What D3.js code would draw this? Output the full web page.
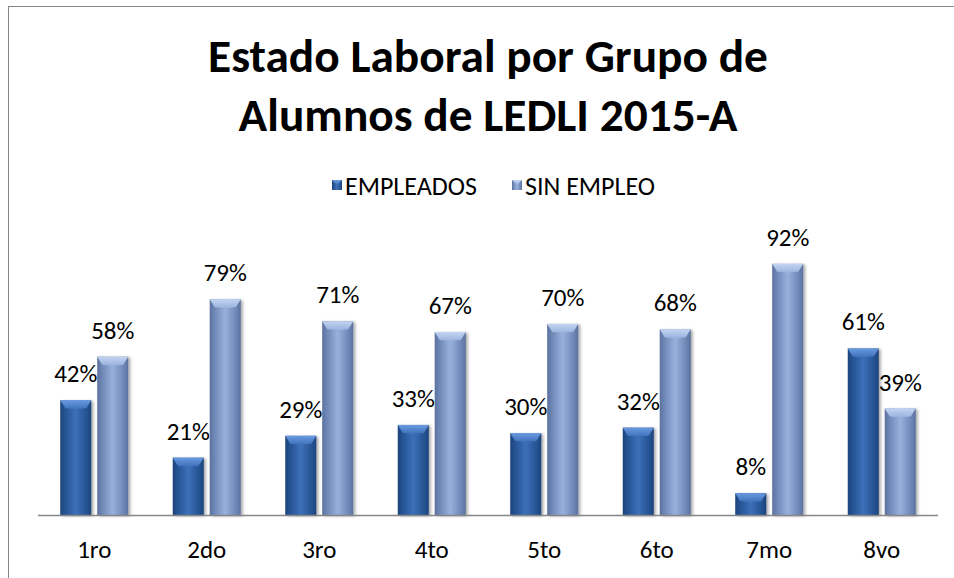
<!DOCTYPE html>
<html>
<head>
<meta charset="utf-8">
<script src="https://cdn.jsdelivr.net/npm/d3@7"></script>
<style>
  body { margin: 0; background: #fff; }
  svg text { font-family: Carlito, Calibri, Lato, sans-serif; fill: #000; }
</style>
</head>
<body>
<div id="chart"></div>
<script>
    "use strict";

    // Datos
    const grupos = ["1ro", "2do", "3ro", "4to", "5to", "6to", "7mo", "8vo"];
    const series = ["EMPLEADOS", "SIN EMPLEO"];
    const empleados = [42, 21, 29, 33, 30, 32, 8, 61];
    const sinEmpleo = [58, 79, 71, 67, 70, 68, 92, 39];
    const tituloLineas = ["Estado Laboral por Grupo de", "Alumnos de LEDLI 2015-A"];

    const width = 954, height = 578;
    const fuente = "Carlito, Calibri, Lato, sans-serif";
    const colores = {
        "EMPLEADOS": { edge: "#24508f", mid: "#3c70b8", top: "#6a9ae0", side: "#1d4479" },
        "SIN EMPLEO": { edge: "#6a83b2", mid: "#98b1dc", top: "#c3d4f1", side: "#5b719c" }
    };

    const svg = d3.select("#chart").append("svg")
        .attr("width", width)
        .attr("height", height);

    // Marco del área del gráfico
    svg.append("rect")
        .attr("x", 8.5).attr("y", 6.5)
        .attr("width", 1000).attr("height", 1000)
        .style("fill", "none")
        .style("stroke", "#868686")
        .style("stroke-width", 1);

    const defs = svg.append("defs");
    series.forEach((s, i) => {
        let c = colores[s];
        let g = defs.append("linearGradient")
            .attr("id", `grad_${i}`)
            .attr("x1", "0%").attr("x2", "100%").attr("y1", "0%").attr("y2", "0%");
        g.append("stop").attr("offset", "0%").attr("stop-color", c.side);
        g.append("stop").attr("offset", "12%").attr("stop-color", c.edge);
        g.append("stop").attr("offset", "50%").attr("stop-color", c.mid);
        g.append("stop").attr("offset", "88%").attr("stop-color", c.edge);
        g.append("stop").attr("offset", "100%").attr("stop-color", c.side);

        let t = defs.append("linearGradient")
            .attr("id", `top_${i}`)
            .attr("x1", "0%").attr("x2", "0%").attr("y1", "0%").attr("y2", "100%");
        t.append("stop").attr("offset", "0%").attr("stop-color", c.top);
        t.append("stop").attr("offset", "100%").attr("stop-color", c.mid);
    });

    let sombra = defs.append("filter").attr("id", "sombra")
        .attr("x", "-20%").attr("y", "-5%").attr("width", "150%").attr("height", "115%");
    sombra.append("feDropShadow")
        .attr("dx", 2).attr("dy", 1).attr("stdDeviation", 1.5)
        .attr("flood-color", "#000").attr("flood-opacity", 0.35);

    // Escalas
    const x0 = d3.scaleBand().domain(grupos).range([38, 938]);
    const x1 = d3.scaleBand().domain(series).range([-34, 34]).paddingInner(0.16);
    const y = d3.scaleLinear().domain([0, 100]).range([515, 242]);

    // Título (tamaño ajustado al ancho de la primera línea)
    const titulo = svg.append("text")
        .attr("text-anchor", "middle")
        .style("font-size", "44px")
        .style("font-weight", "bold");
    titulo.selectAll("tspan")
        .data(tituloLineas)
        .join("tspan")
        .attr("x", 488)
        .attr("y", (d, i) => 72 + i * 59)
        .text(d => d);
    let ancho = titulo.select("tspan").node().getComputedTextLength();
    titulo.style("font-size", `${44 * 560 / ancho}px`);

    // Leyenda
    const legendX = [332, 512];
    const legend = svg.append("g").selectAll("g")
        .data(series)
        .join("g")
        .attr("transform", (d, i) => `translate(${legendX[i]},0)`);
    legend.append("rect")
        .attr("x", 0).attr("y", 180)
        .attr("width", 10).attr("height", 10)
        .style("fill", (d, i) => `url(#grad_${i})`);
    legend.append("path")
        .attr("d", "M0,180 L10,180 L5,185 Z")
        .style("fill", (d, i) => `url(#top_${i})`);
    legend.append("text")
        .attr("x", 13).attr("y", 195)
        .style("font-size", "26px")
        .text(d => d);

    // Barras
    const filas = grupos.map((g, i) => ({
        grupo: g,
        valores: [
            { serie: series[0], idx: 0, v: empleados[i] },
            { serie: series[1], idx: 1, v: sinEmpleo[i] }
        ]
    }));

    const grupoG = svg.append("g").selectAll("g")
        .data(filas)
        .join("g")
        .attr("transform", d => `translate(${x0(d.grupo) + x0.bandwidth() / 2},0)`);

    const barra = grupoG.selectAll("g.barra")
        .data(d => d.valores)
        .join("g")
        .attr("class", "barra");

    barra.append("rect")
        .attr("x", d => x1(d.serie))
        .attr("y", d => y(d.v))
        .attr("width", x1.bandwidth())
        .attr("height", d => y(0) - y(d.v))
        .attr("filter", "url(#sombra)")
        .style("fill", d => `url(#grad_${d.idx})`);

    // bisel superior
    barra.append("path")
        .attr("d", d => {
            let l = x1(d.serie), r = l + x1.bandwidth(), t = y(d.v);
            let m = (l + r) / 2;
            return `M${l},${t} L${r},${t} L${r - 5},${t + 8} L${m},${t + 9} L${l + 5},${t + 8} Z`;
        })
        .style("fill", d => `url(#top_${d.idx})`);

    // Eje X
    svg.append("line")
        .attr("x1", 38).attr("x2", 938)
        .attr("y1", y(0) + 0.5).attr("y2", y(0) + 0.5)
        .style("stroke", "#868686")
        .style("stroke-width", 1.5);

    const xAxis = svg.append("g")
        .attr("transform", `translate(0,${y(0)})`)
        .call(d3.axisBottom(x0).tickSize(0).tickPadding(25));
    xAxis.select(".domain").remove();
    xAxis.selectAll("text")
        .style("font-size", "25px")
        .style("font-family", fuente)
        .attr("fill", "#000");

    // Etiquetas de datos
    barra.append("text")
        .attr("x", d => x1(d.serie) + x1.bandwidth() / 2)
        .attr("y", d => y(d.v) - 18)
        .attr("text-anchor", "middle")
        .style("font-size", "25px")
        .text(d => `${d.v}%`);
</script>
</body>
</html>
